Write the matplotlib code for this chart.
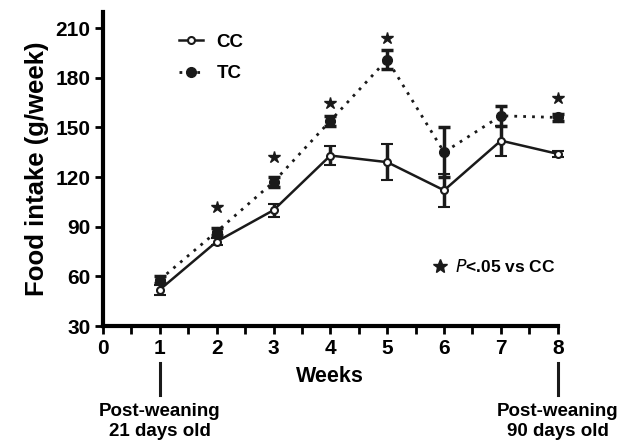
import matplotlib.pyplot as plt
import matplotlib.transforms as mtransforms
from matplotlib.lines import Line2D

weeks = [1, 2, 3, 4, 5, 6, 7, 8]
cc_mean = [52, 81, 100, 133, 129, 112, 142, 134]
cc_err = [3, 2, 4, 6, 11, 10, 9, 2]
tc_mean = [58, 87, 117, 154, 191, 135, 157, 156]
tc_err = [2, 2, 3, 3, 6, 15, 6, 2]

star_weeks = [2, 3, 4, 5, 8]
star_y = [102, 132, 165, 204, 168]

yticks = [30, 60, 90, 120, 150, 180, 210]
xticks = [0, 1, 2, 3, 4, 5, 6, 7, 8]

plt.rcParams['font.family'] = ['Liberation Sans', 'DejaVu Sans']

fig = plt.figure(figsize=(6.23, 4.42), dpi=100)
ax = fig.add_axes([0.1653, 0.2624, 0.730, 0.710])

ink = '#1a1a1a'
tc_ls = (0, (1, 2.2))

# CC: solid line, open circles
ax.errorbar(weeks, cc_mean, yerr=cc_err, color=ink, lw=1.8, ls='-',
            marker='o', ms=5, mfc='white', mec=ink, mew=1.5,
            elinewidth=2.5, capsize=4, capthick=2.5, zorder=3, clip_on=False)
# TC: dotted line, filled circles
ax.errorbar(weeks, tc_mean, yerr=tc_err, color=ink, lw=2, ls=tc_ls,
            marker='o', ms=7, mfc=ink, mec=ink,
            elinewidth=2.5, capsize=4, capthick=2.5, zorder=3, clip_on=False)

ax.plot(star_weeks, star_y, ls='none', marker='*', ms=9, color=ink, clip_on=False)

ax.set_xlim(0, 8)
ax.set_ylim(30, 219.6)
ax.set_xticks(xticks)
ax.set_xticks([x + 0.5 for x in xticks[:-1]], minor=True)
ax.set_yticks(yticks)
ax.tick_params(axis='both', which='both', direction='out', width=2, length=6,
               labelsize=15, pad=3)
for lbl in ax.get_xticklabels() + ax.get_yticklabels():
    lbl.set_fontweight('bold')

for s in ['top', 'right']:
    ax.spines[s].set_visible(False)
for s in ['left', 'bottom']:
    ax.spines[s].set_linewidth(3)

ax.set_xlabel('Weeks', fontsize=15.5, fontweight='bold', labelpad=6)
ax.set_ylabel('Food intake (g/week)', fontsize=18.5, fontweight='bold', labelpad=5)

handles = [
    Line2D([], [], color=ink, lw=1.8, marker='o', ms=5, mfc='white', mec=ink, mew=1.5),
    Line2D([], [], color=ink, lw=2, ls=tc_ls, marker='o', ms=7, mfc=ink, mec=ink),
]
leg = ax.legend(handles, ['CC', 'TC'], loc='upper left', bbox_to_anchor=(0.13, 0.985),
                frameon=False, fontsize=13.5, handlelength=1.3, handletextpad=0.7,
                labelspacing=0.75)
for t in leg.get_texts():
    t.set_fontweight('bold')

ax.plot([5.92], [66], ls='none', marker='*', ms=10, color=ink)
ax.text(6.2, 66, r'$\it{P}$<.05 vs CC', fontsize=12.5, fontweight='bold', va='center')

# post-weaning markers below the axis
trans = mtransforms.blended_transform_factory(ax.transData, ax.transAxes)
for xw, txt in [(1, 'Post-weaning\n21 days old'), (8, 'Post-weaning\n90 days old')]:
    ax.plot([xw, xw], [-0.118, -0.22], color=ink, lw=2.2, transform=trans, clip_on=False)
    ax.text(xw, -0.245, txt, transform=trans, ha='center', va='top',
            fontsize=13.5, fontweight='bold', linespacing=1.25)

fig.savefig('out.png', dpi=100)
